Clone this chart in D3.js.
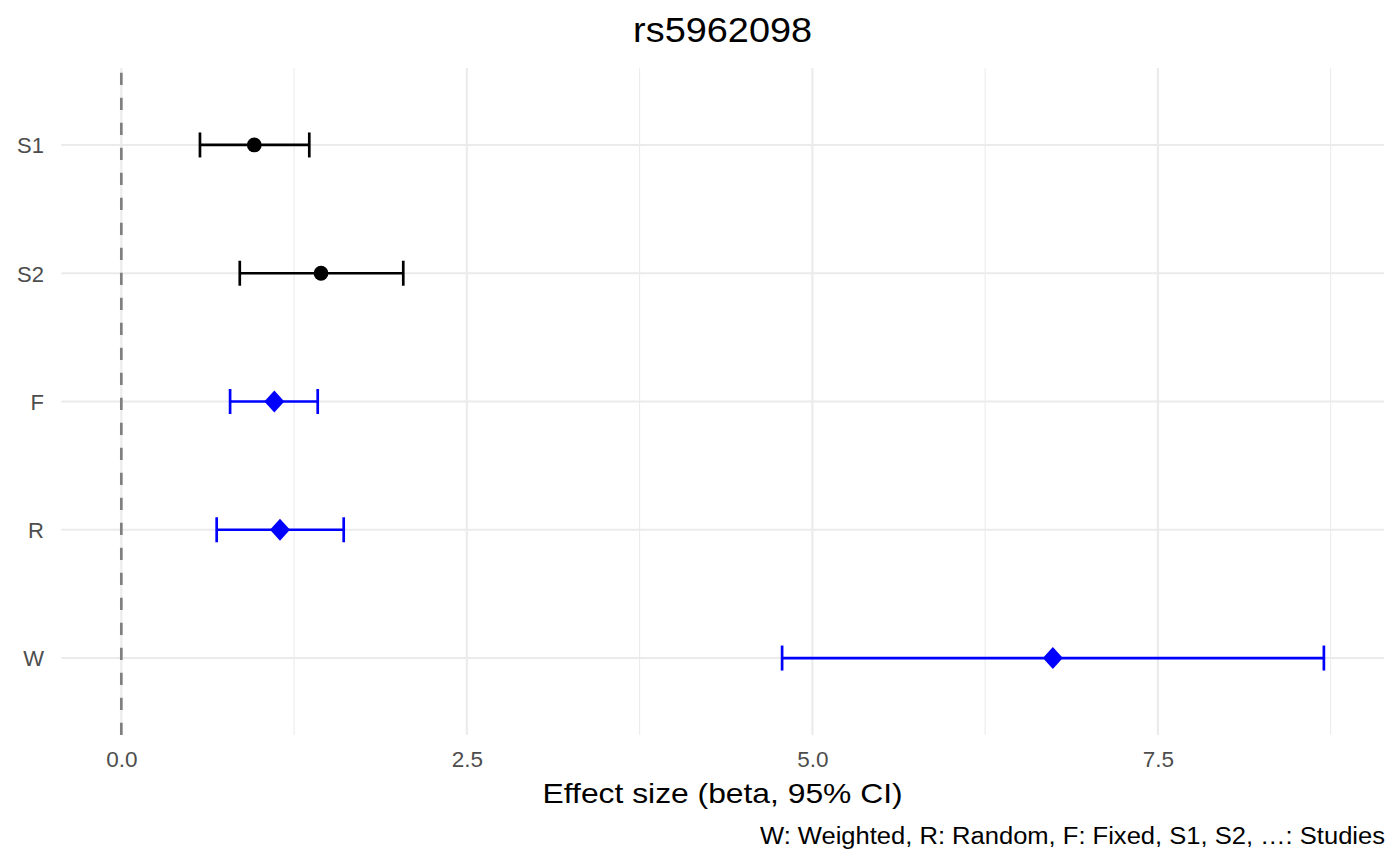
<!DOCTYPE html>
<html>
<head>
<meta charset="utf-8">
<script src="https://cdn.jsdelivr.net/npm/d3@7"></script>
<style>
  html, body { margin: 0; padding: 0; background: #fff; }
  svg { display: block; font-family: "Liberation Sans", Arial, Helvetica, sans-serif; }
</style>
</head>
<body>
<svg id="chart" width="1400" height="865"></svg>
<script>
// ---- data ----
const categories = ["S1", "S2", "F", "R", "W"];
const estimates  = [0.962, 1.445, 1.107, 1.148, 6.740];
const lowerCI    = [0.569, 0.857, 0.787, 0.690, 4.781];
const upperCI    = [1.360, 2.040, 1.421, 1.609, 8.701];
const kinds      = ["study", "study", "summary", "summary", "summary"];
const majorTicks = [0, 2.5, 5, 7.5];
const minorTicks = [1.25, 3.75, 6.25, 8.75];
const titleText   = "rs5962098";
const xLabel      = "Effect size (beta, 95% CI)";
const captionText = "W: Weighted, R: Random, F: Fixed, S1, S2, \u2026: Studies";

const rows = categories.map((c, i) => ({
  cat: c, est: estimates[i], lo: lowerCI[i], hi: upperCI[i], kind: kinds[i]
}));

// ---- layout ----
const svg = d3.select("#chart");
const panel = { left: 61.2, right: 1384.0, top: 68, bottom: 735 };

const x = d3.scaleLinear().domain([-0.435, 9.136]).range([panel.left, panel.right]);
const y = d3.scalePoint().domain(categories).range([panel.top, panel.bottom]).padding(0.6);

const color = k => k === "study" ? "#000000" : "#0000ff";

// grid
const g = svg.append("g");
g.selectAll("line.minor").data(minorTicks).join("line")
  .attr("x1", d => x(d)).attr("x2", d => x(d))
  .attr("y1", panel.top).attr("y2", panel.bottom)
  .attr("stroke", "#ebebeb").attr("stroke-width", 1.07);
g.selectAll("line.majorx").data(majorTicks).join("line")
  .attr("x1", d => x(d)).attr("x2", d => x(d))
  .attr("y1", panel.top).attr("y2", panel.bottom)
  .attr("stroke", "#ebebeb").attr("stroke-width", 2.13);
g.selectAll("line.majory").data(categories).join("line")
  .attr("x1", panel.left).attr("x2", panel.right)
  .attr("y1", d => y(d)).attr("y2", d => y(d))
  .attr("stroke", "#ebebeb").attr("stroke-width", 2.13);

// reference line at 0
svg.append("line")
  .attr("x1", x(0)).attr("x2", x(0))
  .attr("y1", panel.bottom).attr("y2", panel.top)
  .attr("stroke", "#7f7f7f").attr("stroke-width", 2.7)
  .attr("stroke-dasharray", "12.3,12.7");

// error bars
const capH = 12.5, ebw = 2.7;
const eb = svg.append("g").selectAll("g").data(rows).join("g");
eb.append("line")
  .attr("x1", d => x(d.lo)).attr("x2", d => x(d.hi))
  .attr("y1", d => y(d.cat)).attr("y2", d => y(d.cat))
  .attr("stroke", d => color(d.kind)).attr("stroke-width", ebw);
eb.append("line")
  .attr("x1", d => x(d.lo)).attr("x2", d => x(d.lo))
  .attr("y1", d => y(d.cat) - capH).attr("y2", d => y(d.cat) + capH)
  .attr("stroke", d => color(d.kind)).attr("stroke-width", ebw);
eb.append("line")
  .attr("x1", d => x(d.hi)).attr("x2", d => x(d.hi))
  .attr("y1", d => y(d.cat) - capH).attr("y2", d => y(d.cat) + capH)
  .attr("stroke", d => color(d.kind)).attr("stroke-width", ebw);

// points
svg.append("g").selectAll("circle").data(rows.filter(d => d.kind === "study")).join("circle")
  .attr("cx", d => x(d.est)).attr("cy", d => y(d.cat)).attr("r", 7.4)
  .attr("fill", "#000");
const dw = 10, dh = 11;
svg.append("g").selectAll("path").data(rows.filter(d => d.kind === "summary")).join("path")
  .attr("d", d => {
    const cx = x(d.est), cy = y(d.cat);
    return `M${cx},${cy - dh}L${cx + dw},${cy}L${cx},${cy + dh}L${cx - dw},${cy}Z`;
  })
  .attr("fill", "#0000ff");

// axes (labels only)
const xAxis = d3.axisBottom(x).tickValues(majorTicks).tickFormat(d3.format(".1f")).tickSize(0).tickPadding(0);
const xa = svg.append("g").attr("transform", `translate(0,${767.3})`).call(xAxis);
xa.select(".domain").remove();
xa.selectAll("text").attr("dy", null).attr("y", 0)
  .attr("fill", "#4d4d4d").style("font-size", "22.5px")
  .style("font-family", "'Liberation Sans', Arial, sans-serif");

const yAxis = d3.axisLeft(y).tickSize(0).tickPadding(0);
const ya = svg.append("g").attr("transform", `translate(${44},0)`).call(yAxis);
ya.select(".domain").remove();
ya.selectAll("text").attr("dy", "0.36em").attr("x", 0)
  .attr("fill", "#4d4d4d").style("font-size", "22px")
  .style("font-family", "'Liberation Sans', Arial, sans-serif");

// titles
const cx = (panel.left + panel.right) / 2;
svg.append("text").attr("x", cx).attr("y", 42.3)
  .attr("text-anchor", "middle").attr("fill", "#000").style("font-size", "35px")
  .attr("textLength", 179).attr("lengthAdjust", "spacingAndGlyphs")
  .text(titleText);
svg.append("text").attr("x", cx).attr("y", 803.3)
  .attr("text-anchor", "middle").attr("fill", "#000").style("font-size", "28.5px")
  .attr("textLength", 360).attr("lengthAdjust", "spacingAndGlyphs")
  .text(xLabel);
svg.append("text").attr("x", 1385).attr("y", 844)
  .attr("text-anchor", "end").attr("fill", "#000").style("font-size", "23.5px")
  .attr("textLength", 625).attr("lengthAdjust", "spacingAndGlyphs")
  .text(captionText);
</script>
</body>
</html>
